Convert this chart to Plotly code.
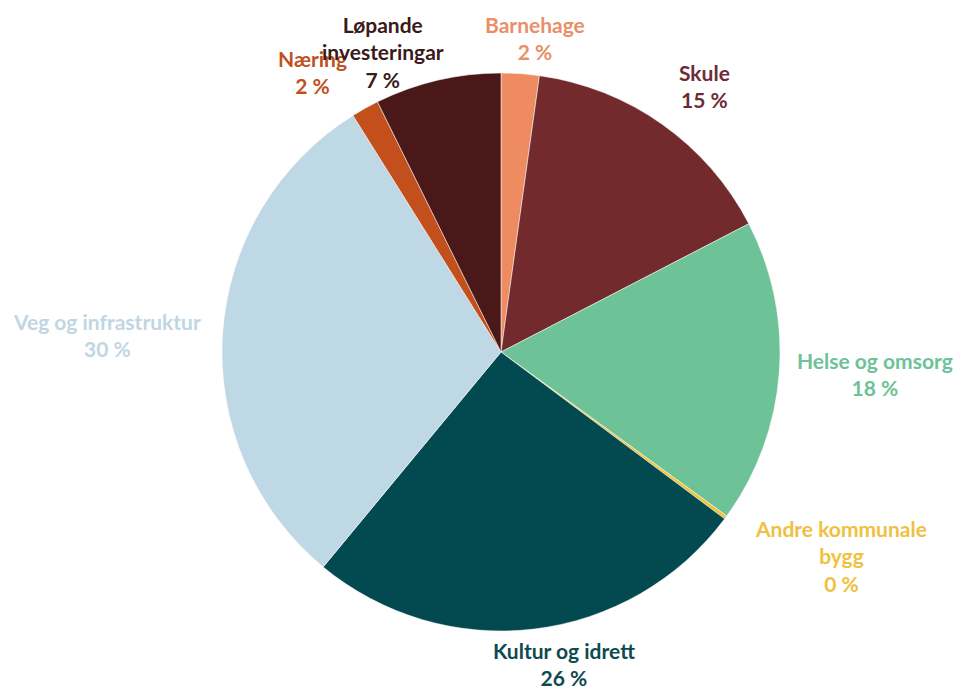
import math
import plotly.graph_objects as go

# ---- data ----
categories = ["Barnehage", "Skule", "Helse og omsorg", "Andre kommunale<br>bygg",
              "Kultur og idrett", "Veg og infrastruktur", "Næring", "Løpande<br>investeringar"]
values = [2.2, 15.2, 17.6, 0.2, 25.8, 30.1, 1.6, 7.3]

# ---- styles ----
slice_colors = ["#EE8B61", "#722A2D", "#6DC298", "#F2C230",
                "#034A50", "#BFD8E5", "#C24F1C", "#4A1818"]
label_colors = ["#E98F68", "#6E2B36", "#6DC298", "#F0C040",
                "#0E4A50", "#C0D6E3", "#C0511F", "#3A1A1A"]
# label placement (distance from centre in px, angular nudge in degrees)
label_dist = [316, 335, 375, 396, 318, 394, 337, 322]
label_nudge = [2.2, 2.2, -1.0, -5.4, -4.5, -1.3, -4.8, -8.4]

OFF = 8  # default page body margin
W, H = 963 - OFF, 692 - OFF
CX, CY, R = 501 - OFF, 352 - OFF, 279

fig = go.Figure(go.Pie(
    labels=categories,
    values=values,
    sort=False,
    direction="clockwise",
    rotation=0,
    textinfo="none",
    hoverinfo="label+percent",
    marker=dict(colors=slice_colors, line=dict(color="white", width=0.5)),
    domain=dict(x=[(CX - R) / W, (CX + R) / W],
                y=[(H - CY - R) / H, (H - CY + R) / H]),
    showlegend=False,
))

total = sum(values)
cum = 0.0
annotations = []
for i, (cat, v) in enumerate(zip(categories, values)):
    mid = (cum + v / 2) / total * 360.0
    cum += v
    ang = math.radians(mid + label_nudge[i])
    px = CX + label_dist[i] * math.sin(ang)
    py = CY - label_dist[i] * math.cos(ang)
    pct = round(v / total * 100)
    annotations.append(dict(
        x=px / W, y=1 - py / H, xref="paper", yref="paper",
        text=f"<b>{cat}<br>{pct} %</b>", showarrow=False,
        xanchor="center", yanchor="middle", align="center",
        font=dict(family="Lato", size=21, color=label_colors[i]),
    ))

fig.update_layout(
    width=W, height=H,
    margin=dict(l=0, r=0, t=0, b=0),
    paper_bgcolor="white", plot_bgcolor="white",
    annotations=annotations,
)

fig.write_html("out.html")
